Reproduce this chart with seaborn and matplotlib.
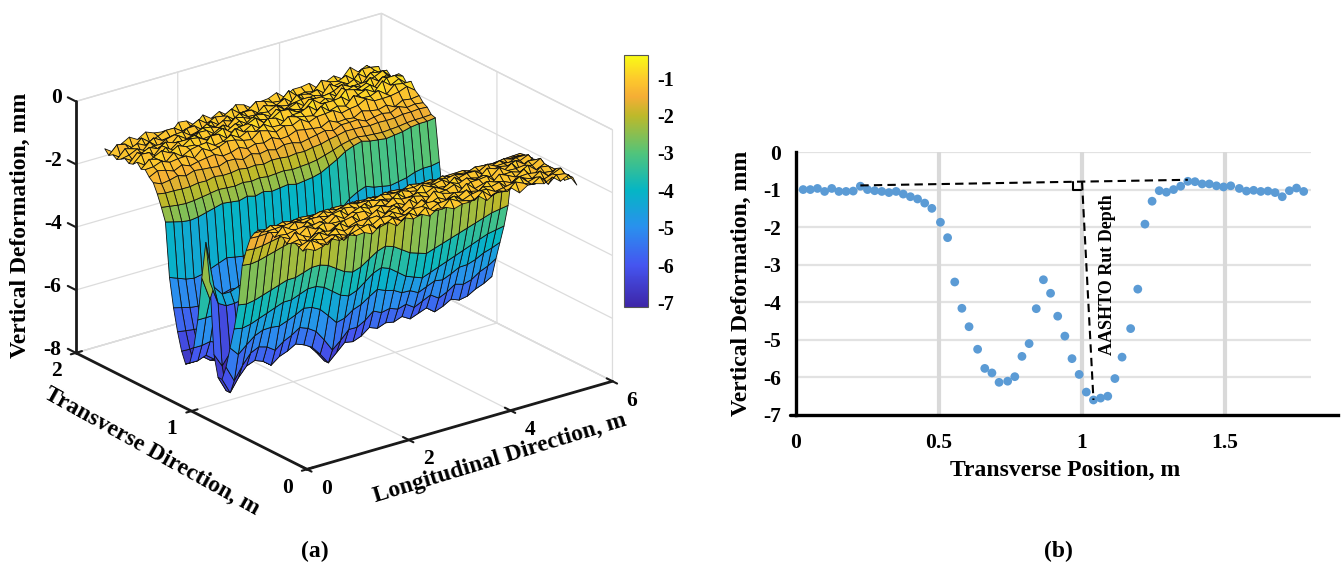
import numpy as np
import seaborn as sns
import matplotlib.pyplot as plt
from matplotlib.cm import ScalarMappable
from matplotlib.colors import LinearSegmentedColormap, Normalize
from mpl_toolkits.mplot3d import proj3d

# transverse profile, panel (b)
trans_pos = [0.025, 0.05, 0.075, 0.1, 0.125, 0.15, 0.175, 0.2, 0.225, 0.25,
             0.275, 0.3, 0.325, 0.35, 0.375, 0.4, 0.425, 0.45, 0.475, 0.505,
             0.53, 0.555, 0.58, 0.605, 0.635, 0.66, 0.685, 0.71, 0.74, 0.765,
             0.79, 0.815, 0.84, 0.865, 0.89, 0.915, 0.94, 0.965, 0.99, 1.015,
             1.04, 1.065, 1.09, 1.115, 1.14, 1.17, 1.195, 1.22, 1.245, 1.27,
             1.295, 1.32, 1.345, 1.37, 1.395, 1.42, 1.445, 1.47, 1.495, 1.52,
             1.55, 1.575, 1.6, 1.625, 1.65, 1.675, 1.7, 1.725, 1.75, 1.775]
trans_def = [-1.0, -1.0, -0.97, -1.05, -0.97, -1.05, -1.05, -1.04, -0.91, -1.0,
             -1.03, -1.05, -1.08, -1.05, -1.12, -1.19, -1.25, -1.36, -1.5, -1.87,
             -2.28, -3.46, -4.16, -4.65, -5.25, -5.76, -5.88, -6.13, -6.1, -5.98,
             -5.44, -5.1, -4.17, -3.4, -3.76, -4.37, -4.9, -5.5, -5.92, -6.39,
             -6.6, -6.55, -6.5, -6.03, -5.46, -4.7, -3.65, -1.92, -1.31, -1.03,
             -1.07, -1.0, -0.91, -0.78, -0.79, -0.85, -0.85, -0.9, -0.93, -0.9,
             -0.97, -1.04, -1.02, -1.05, -1.04, -1.08, -1.19, -1.03, -0.96, -1.05]
hull_x = [0.225, 1.37]
hull_y = [-0.89, -0.74]
rut_x = [1.0, 1.04]
rut_y = [-0.8, -6.6]
square_x = [0.97, 0.97, 0.995]
square_y = [-0.81, -1.0, -1.0]

# surface of panel (a): section read at 0.035 m steps
surf_trans = [0.0, 0.035, 0.07, 0.105, 0.14, 0.175, 0.21, 0.245, 0.28, 0.315,
              0.35, 0.385, 0.42, 0.455, 0.49, 0.525, 0.56, 0.595, 0.63, 0.665,
              0.7, 0.735, 0.77, 0.805, 0.84, 0.875, 0.91, 0.945, 0.98, 1.015,
              1.05, 1.085, 1.12, 1.155, 1.19, 1.225, 1.26, 1.295, 1.33, 1.365,
              1.4, 1.435, 1.47, 1.505, 1.54, 1.575, 1.61, 1.645, 1.68, 1.715,
              1.75]
surf_def = [-1.0, -1.0, -1.0, -1.02, -1.02, -1.02, -1.02, -1.0, -1.02, -1.04,
            -1.05, -1.1, -1.18, -1.32, -1.5, -1.9, -2.4, -3.7, -4.5, -5.0,
            -5.5, -6.0, -6.0, -5.4, -4.2, -3.6, -4.2, -5.0, -5.9, -6.4,
            -6.5, -6.2, -5.7, -5.0, -4.1, -2.4, -2.0, -1.65, -1.38, -1.18,
            -1.02, -0.96, -0.93, -0.92, -0.95, -1.0, -1.02, -1.02, -1.08, -1.02,
            -1.02]

# how each zone departs from that section along the length (0.16 m steps)
near_rut_dev = [-0.5, -1.0, -0.6, -0.3, -0.2, -0.3, -0.5, -0.3, -0.2, -0.05,
                -0.15, -0.3, -0.6, -0.95, -0.7, -0.45, -0.5, -0.4, -0.2, -0.3,
                -0.2, -0.25, -0.15, -0.3, -0.2, -0.1, -0.3, -0.2, -0.05, -0.15,
                -0.1, 0.05, 0.15, 0.3]
near_wall_dev = [-0.2, -0.25, -0.2, -0.1, 0.0, 0.1, 0.2, 0.2, 0.3, 0.4,
                 0.4, 0.3, 0.1, -0.1, -0.2, -0.1, 0.1, 0.3, 0.4, 0.3,
                 0.1, -0.1, -0.2, -0.3, -0.2, -0.1, 0.0, 0.1, 0.2, 0.3,
                 0.4, 0.5, 0.55, 0.6]
far_wall_dev = [0.0, -0.1, -0.2, -0.25, -0.2, -0.1, 0.0, 0.1, 0.05, 0.0,
                0.1, 0.0, 0.1, 0.0, 0.05, 0.1, 0.0, 0.05, 0.1, 0.2,
                0.4, 0.6, 0.85, 1.0, 1.1, 1.0, 0.95, 0.9, 0.95, 1.0,
                1.1, 1.15, 1.15, 1.2]
far_rut_dev = [-0.1, -0.1, 0.0, -0.2, -0.3, 0.0, -0.2, -0.1, -0.2, 0.0,
               0.1, -0.1, 0.0, 0.1, 0.0, 0.1, 0.2, 0.2, 0.3, 0.2,
               0.3, 0.4, 0.3, 0.4, 0.5, 0.3, 0.5, 0.6, 0.5, 0.6,
               0.7, 0.7, 0.8, 0.8]
hump_dev = [1.2, -0.3, -0.6, -0.6, -0.5, -0.4, -0.6, -0.4, -0.3, -0.4,
            -0.3, -0.3, -0.4, -0.2, -0.3, -0.1, -0.2, -0.1, 0.0, 0.1,
            0.0, 0.1, 0.2, 0.1, 0.2, 0.3, 0.2, 0.3, 0.4, 0.3,
            0.4, 0.5, 0.5, 0.6]
far_shoulder_dev = [-0.1, -0.05, 0.0, -0.03, 0.03, 0.0, 0.02, 0.04, -0.02, 0.03,
                    0.05, 0.02, 0.05, 0.03, 0.06, 0.05, 0.08, 0.04, 0.06, 0.08,
                    0.05, 0.08, 0.1, 0.06, 0.1, 0.08, 0.12, 0.1, 0.14, 0.12,
                    0.15, 0.18, 0.22, 0.1]
near_shoulder_dev = [-0.05, 0.0, -0.05, 0.0, 0.02, -0.02, 0.0, 0.03, 0.0, 0.02,
                     0.04, 0.0, 0.03, 0.05, 0.0, 0.02, 0.04, 0.0, 0.05, 0.02,
                     0.0, 0.03, 0.0, -0.02, 0.02, 0.0, -0.03, 0.0, -0.05, -0.02,
                     -0.08, -0.1, -0.05, -0.35]
rough_long = [0.5, -0.9, 0.3, 0.8, -0.4, 0.9, -0.7, 0.2, -1.0, 0.6,
              0.9, -0.3, 0.4, -0.8, 1.0, -0.5, 0.1, 0.7, -0.9, 0.4,
              -0.2, 0.8, -0.6, 1.0, -0.3, 0.5, -1.0, 0.7, 0.2, -0.6,
              0.9, -0.4, 0.6, -0.8]
rough_long2 = [-0.3, 0.7, 0.6, -0.8, 0.2, -0.5, -0.9, 0.8, 0.4, -0.6,
               0.3, 1.0, -0.7, -0.2, 0.5, 0.9, -1.0, 0.1, 0.6, 0.8,
               -0.5, -0.3, 0.9, 0.2, -0.8, -0.6, 0.7, 1.0, -0.4, 0.3,
               -0.9, 0.5, 0.6, 0.2]
rough_trans = [0.09, -0.1, 0.05, 0.12, -0.07, -0.1, 0.08, 0.1, -0.09, 0.04,
               0.06, -0.04, 0.03, 0.01, 0.0, 0.0, 0.0, 0.0, 0.0, 0.0,
               0.0, 0.0, 0.0, 0.0, 0.0, 0.0, 0.0, 0.0, 0.0, 0.0,
               0.0, 0.0, 0.0, 0.0, 0.0, 0.0, 0.0, 0.02, 0.04, -0.05,
               0.07, -0.09, 0.1, -0.05, -0.12, 0.09, 0.07, -0.1, 0.12, -0.08,
               0.1]
rough_trans2 = [-0.05, 0.08, 0.12, -0.04, -0.1, 0.09, -0.07, 0.05, 0.1, -0.08,
                0.04, 0.05, -0.03, 0.01, 0.0, 0.0, 0.0, 0.0, 0.0, 0.0,
                0.0, 0.0, 0.0, 0.0, 0.0, 0.0, 0.0, 0.0, 0.0, 0.0,
                0.0, 0.0, 0.0, 0.0, 0.0, 0.0, 0.0, 0.01, -0.04, 0.05,
                0.09, 0.07, -0.08, 0.12, 0.05, -0.07, 0.1, 0.08, -0.05, 0.1,
                -0.09]

parula_pos = [0.0, 0.166, 0.315, 0.463, 0.611, 0.76, 0.834, 0.908, 1.0]
parula_colors = ['#3e26a8', '#4555f0', '#2a90ee', '#05b5c5', '#52c47a',
                 '#bdb92a', '#f5ae35', '#fdc92c', '#f9fb15']
bar_ticks = [-1, -2, -3, -4, -5, -6, -7]

W, H = 1342, 568
sns.set_theme(style='white')
plt.rcParams['font.family'] = ['Liberation Serif', 'DejaVu Serif']
plt.rcParams['font.weight'] = 'bold'
plt.rcParams['axes.unicode_minus'] = False
plt.rcParams['text.color'] = 'black'
plt.rcParams['xtick.color'] = 'black'
plt.rcParams['ytick.color'] = 'black'
plt.rcParams['grid.color'] = '#dcdcdc'
plt.rcParams['grid.linewidth'] = 0.9


def px_rect(left, top, right, bottom):
    return [left / W, 1 - bottom / H, (right - left) / W, (bottom - top) / H]


def label_3d(ax, x, y, z, s, ha='center'):
    # flat text at the projected spot of a 3d point
    sx, sy, _ = proj3d.proj_transform(x, y, z, ax.get_proj())
    ax.text2D(sx, sy, s, transform=ax.transData, fontsize=15.5, ha=ha, va='center')


# build the surface
trans = np.array(surf_trans)
longit = np.linspace(0, 5.3, 34)
X, Y = np.meshgrid(longit, trans)
near_sh_w = np.interp(trans, [0.35, 0.45], [1, 0])
far_sh_w = np.interp(trans, [1.35, 1.45], [0, 1])
near_wall_w = np.interp(trans, [0.45, 0.55, 0.63, 0.72], [0, 0.7, 1, 0])
near_w = np.interp(trans, [0.63, 0.7, 0.8, 0.84], [0, 1, 1, 0])
hump_w = np.interp(trans, [0.805, 0.875, 0.945], [0, 1, 0])
far_w = np.interp(trans, [0.945, 1.015, 1.05, 1.12], [0, 1, 1, 0])
wall_w = np.interp(trans, [1.05, 1.1, 1.155, 1.19, 1.26, 1.36], [0, 0.2, 0.7, 1, 0.4, 0])
Z = np.array(surf_def)[:, None] * np.ones((len(trans), len(longit)))
Z = Z + np.outer(near_sh_w, near_shoulder_dev) + np.outer(near_wall_w, near_wall_dev)
Z = Z + np.outer(near_w, near_rut_dev) + np.outer(hump_w, hump_dev)
Z = Z + np.outer(far_w, far_rut_dev) + np.outer(wall_w, far_wall_dev)
Z = Z + np.outer(far_sh_w, far_shoulder_dev) + np.outer(rough_trans, rough_long)
Z = Z + np.outer(rough_trans2, rough_long2)

parula = LinearSegmentedColormap.from_list('parula', list(zip(parula_pos, parula_colors)))
norm = Normalize(-7.12, -0.38)

fig = plt.figure(figsize=(W / 100, H / 100), dpi=100, facecolor='white')

# panel (a)
ax = fig.add_axes([1 / W, 35 / H, 0.5, 1], projection='3d', computed_zorder=False)
ax.set_proj_type('ortho')
ax.view_init(elev=22.4, azim=-127.1)
ax.set_box_aspect((1, 1, 0.71), zoom=1.036)
ax.set_xlim(0, 6, view_margin=0)
ax.set_ylim(0, 2, view_margin=0)
ax.set_zlim(-8, 0, view_margin=0)
ax.set_xticks([0, 2, 4, 6])
ax.set_yticks([0, 1, 2])
ax.set_zticks([0, -2, -4, -6, -8])
ax.set_xticklabels([])
ax.set_yticklabels([])
ax.set_zticklabels([])
ax.tick_params(color='none')
for axis in [ax.xaxis, ax.yaxis, ax.zaxis]:
    axis.set_pane_color((1, 1, 1, 1))
    axis.pane.set_edgecolor('#dcdcdc')
    axis.line.set_color((0, 0, 0, 0))

ax.plot_surface(X, Y, Z, rstride=1, cstride=1, facecolors=parula(norm(Z)),
                shade=False, edgecolor='#111111', linewidth=0.6, zorder=2)

ax.plot([0, 6], [0, 0], [-8, -8], color='#1a1a1a', lw=2, zorder=3)
ax.plot([0, 0], [0, 2], [-8, -8], color='#1a1a1a', lw=2, zorder=3)
ax.plot([0, 0], [2, 2], [-8, 0], color='#1a1a1a', lw=2, zorder=3)
for t in [0, 2, 4, 6]:
    ax.plot([t, t], [-0.04, 0.05], [-8, -8], color='#1a1a1a', lw=1.5, zorder=3)
    label_3d(ax, t, -0.17, -8.3, str(t))
for t in [0, 1, 2]:
    ax.plot([-0.1, 0.12], [t, t], [-8, -8], color='#1a1a1a', lw=1.5, zorder=3)
    label_3d(ax, -0.39, t, -8.4, str(t))
for t in [0, -2, -4, -6, -8]:
    ax.plot([0, 0], [2, 2.07], [t, t], color='#1a1a1a', lw=1.5, zorder=3)
    label_3d(ax, -0.1, 2.08, t, str(t), ha='right')

fig.text(20 / W, 1 - 225 / H, 'Vertical Deformation, mm', rotation=90,
         fontsize=17, ha='center', va='center')
fig.text(152 / W, 1 - 451 / H, 'Transverse Direction, m', rotation=-29,
         rotation_mode='anchor', fontsize=17, ha='center', va='center')
fig.text(500 / W, 1 - 458 / H, 'Longitudinal Direction, m', rotation=17,
         rotation_mode='anchor', fontsize=17, ha='center', va='center')
fig.text(315 / W, 1 - 551 / H, '(a)', fontsize=17, ha='center', va='center')

cax = fig.add_axes(px_rect(624, 55, 648, 307))
bar = fig.colorbar(ScalarMappable(norm=norm, cmap=parula), cax=cax, ticks=bar_ticks)
bar.outline.set_edgecolor('#555555')
bar.outline.set_linewidth(0.8)
cax.tick_params(direction='in', length=2.5, color='#444444', width=0.7, pad=7, labelsize=14.5)

# panel (b)
ax2 = fig.add_axes(px_rect(796, 152, 1338, 415))
ax2.set_xlim(0, 1.895)
ax2.set_ylim(-7, 0)
ax2.hlines([-1, -2, -3, -4, -5, -6, 0], 0, 1.8, color='#e2e2e2', lw=1.6, zorder=1)
ax2.vlines([0.5, 1.0, 1.5], -7, 0, color='#d9d9d9', lw=3, zorder=1)
sns.scatterplot(x=trans_pos, y=trans_def, ax=ax2, color='#5b9bd5', s=40,
                edgecolor='none', zorder=3, clip_on=False)
ax2.plot(hull_x, hull_y, color='black', lw=1.5, ls=(0, (4, 2.5)), zorder=4)
ax2.plot(rut_x, rut_y, color='black', lw=1.5, ls=(0, (4, 2.5)), zorder=4)
ax2.plot(square_x, square_y, color='black', lw=1.5, zorder=4)
ax2.plot([-0.02, 0], [-7, -7], color='black', lw=2.4, clip_on=False)
ax2.text(1.09, -3.27, 'AASHTO Rut Depth', rotation=90, fontsize=13,
         ha='center', va='center', zorder=5)
ax2.set_xticks([0, 0.5, 1, 1.5])
ax2.set_xticklabels(['0', '0.5', '1', '1.5'])
ax2.set_yticks([0, -1, -2, -3, -4, -5, -6, -7])
ax2.tick_params(axis='x', length=0, labelsize=15.5, pad=13)
ax2.tick_params(axis='y', length=0, labelsize=15.5, pad=11)
for side in ['top', 'right']:
    ax2.spines[side].set_visible(False)
for side in ['left', 'bottom']:
    ax2.spines[side].set_linewidth(2.4)
    ax2.spines[side].set_color('black')
fig.text(741 / W, 1 - 283 / H, 'Vertical Deformation, mm', rotation=90,
         fontsize=17, ha='center', va='center')
fig.text(1065 / W, 1 - 470 / H, 'Transverse Position, m', fontsize=17,
         ha='center', va='center')
fig.text(1058 / W, 1 - 551 / H, '(b)', fontsize=17, ha='center', va='center')

fig.savefig('out.png', dpi=100)
